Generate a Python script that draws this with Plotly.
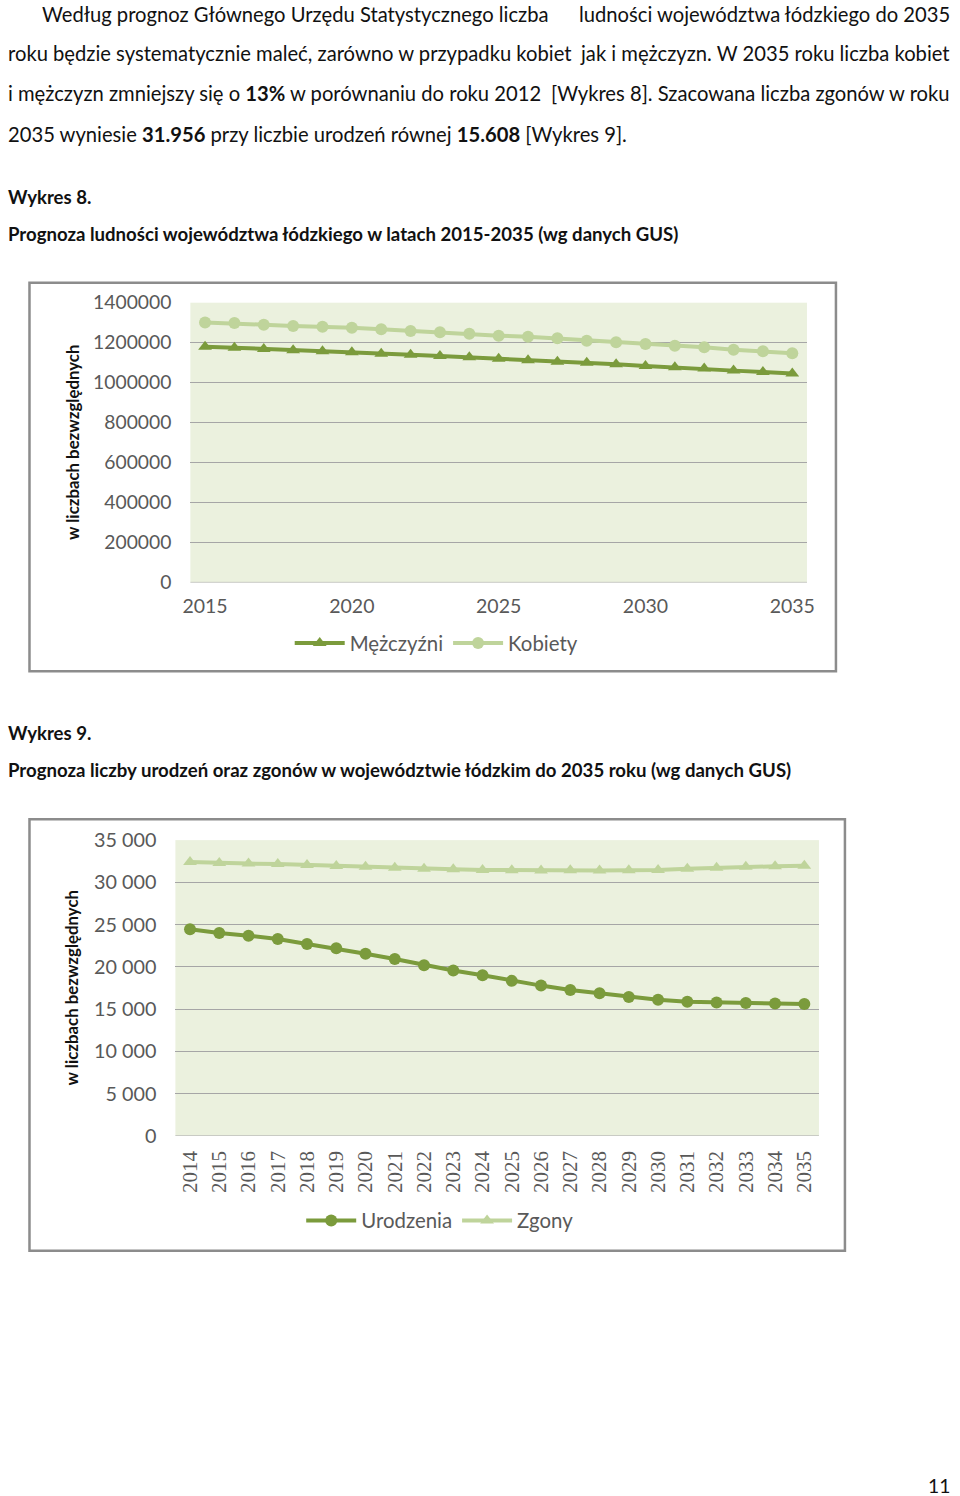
import plotly.graph_objects as go

# ---------------- DATA ----------------
years_pop = list(range(2015, 2036))
mezczyzni = [1180000, 1175000, 1168000, 1162000, 1157000, 1152000, 1145000, 1140000, 1133000,
             1127000, 1120000, 1112000, 1105000, 1100000, 1092000, 1083000, 1077000, 1070000,
             1060000, 1053000, 1045000]
kobiety = [1301000, 1298000, 1290000, 1283000, 1280000, 1275000, 1267000, 1258000, 1252000,
           1245000, 1235000, 1230000, 1222000, 1210000, 1202000, 1193000, 1185000, 1177000,
           1165000, 1157000, 1147000]

years_bd = list(range(2014, 2036))
urodzenia = [24450, 24010, 23690, 23300, 22700, 22190, 21560, 20920, 20200, 19560, 19010,
             18340, 17780, 17270, 16870, 16430, 16110, 15870, 15790, 15710, 15670, 15608]
zgony = [32420, 32300, 32220, 32180, 32060, 31940, 31860, 31740, 31620, 31540, 31470,
         31430, 31390, 31420, 31390, 31420, 31460, 31620, 31740, 31860, 31900, 31956]

pop_ticks = [0, 200000, 400000, 600000, 800000, 1000000, 1200000, 1400000]
pop_xticks = [2015, 2020, 2025, 2030, 2035]
bd_ticks = [0, 5000, 10000, 15000, 20000, 25000, 30000, 35000]
bd_ticktext = ["0", "5 000", "10 000", "15 000", "20 000", "25 000", "30 000", "35 000"]

# ---------------- STYLE ----------------
W, H = 960, 1496
# observed mapping page -> photo: photo = S * page + O ; positions below are photo pixels
SX, OX = 0.984, 7.5
SY, OY = 0.985, 12.0
DARK = "#7B9B3C"
LIGHT = "#BFD49B"
PLOTBG = "#EBF1DE"
GRID = "#A6A6A6"
TICK = "#595959"
FONT = "Lato"


def px(x):
    return min(max(((x - OX) / SX) / W, 0.0), 0.998)


def py(y):
    return min(max(1 - ((y - OY) / SY) / H, 0.0), 1.0)


fig = go.Figure()

fig.add_trace(go.Scatter(x=years_pop, y=mezczyzni, name="Mężczyźni", mode="lines+markers",
                         line=dict(color=DARK, width=4),
                         marker=dict(symbol="triangle-up", size=12, color=DARK),
                         xaxis="x", yaxis="y", legend="legend"))
fig.add_trace(go.Scatter(x=years_pop, y=kobiety, name="Kobiety", mode="lines+markers",
                         line=dict(color=LIGHT, width=4),
                         marker=dict(symbol="circle", size=12, color=LIGHT),
                         xaxis="x", yaxis="y", legend="legend"))

fig.add_trace(go.Scatter(x=years_bd, y=urodzenia, name="Urodzenia", mode="lines+markers",
                         line=dict(color=DARK, width=4),
                         marker=dict(symbol="circle", size=12, color=DARK),
                         xaxis="x2", yaxis="y2", legend="legend2"))
fig.add_trace(go.Scatter(x=years_bd, y=zgony, name="Zgony", mode="lines+markers",
                         line=dict(color=LIGHT, width=4),
                         marker=dict(symbol="triangle-up", size=12, color=LIGHT),
                         xaxis="x2", yaxis="y2", legend="legend2"))

common_axis = dict(showline=False, zeroline=False, ticks="", fixedrange=True)

fig.update_layout(
    width=W, height=H,
    margin=dict(l=0, r=0, t=0, b=0),
    paper_bgcolor="white",
    plot_bgcolor=PLOTBG,
    font=dict(family=FONT, color=TICK),
    xaxis=dict(domain=[px(190), px(807)], anchor="y", range=[2014.5, 2035.5],
               tickvals=pop_xticks, showgrid=False,
               tickfont=dict(size=19.5, color=TICK), ticklabelstandoff=10, **common_axis),
    yaxis=dict(domain=[py(582), py(302)], anchor="x", range=[0, 1400000],
               tickvals=pop_ticks, tickformat="d", showgrid=True, gridcolor=GRID, gridwidth=1,
               tickfont=dict(size=19.3, color=TICK), ticklabelstandoff=18, **common_axis),
    xaxis2=dict(domain=[px(175), px(819)], anchor="y2", range=[2013.5, 2035.5],
                tickvals=years_bd, tickangle=-90, showgrid=False,
                tickfont=dict(size=21, color=TICK, family="Liberation Serif"),
                ticklabelstandoff=10, **common_axis),
    yaxis2=dict(domain=[py(1136), py(840)], anchor="x2", range=[0, 35000],
                tickvals=bd_ticks, ticktext=bd_ticktext, showgrid=True, gridcolor=GRID, gridwidth=1,
                tickfont=dict(size=19.8, color=TICK), ticklabelstandoff=18, **common_axis),
    legend=dict(orientation="h", x=px(436), y=py(643), xanchor="center", yanchor="middle",
                font=dict(size=20.4, color=TICK), bgcolor="rgba(0,0,0,0)", itemwidth=50),
    legend2=dict(orientation="h", x=px(440), y=py(1221), xanchor="center", yanchor="middle",
                 font=dict(size=20.4, color=TICK), bgcolor="rgba(0,0,0,0)", itemwidth=50),
    showlegend=True,
)

# frames around the charts
for (x0, y0, x1, y1) in [(29, 282, 836, 671), (29, 819, 845, 1251)]:
    fig.add_shape(type="rect", xref="paper", yref="paper",
                  x0=px(x0), x1=px(x1), y0=py(y1), y1=py(y0),
                  line=dict(color="#8C8C8C", width=2.5), fillcolor="rgba(0,0,0,0)", layer="below")
# zero baselines
fig.add_shape(type="line", xref="x domain", yref="y", x0=0, x1=1, y0=0, y1=0,
              line=dict(color=GRID, width=1))
fig.add_shape(type="line", xref="x2 domain", yref="y2", x0=0, x1=1, y0=0, y1=0,
              line=dict(color=GRID, width=1))

TXT = dict(family=FONT, size=20.2, color="#111111")


def note(text, x, y, xanchor="left", font=None):
    fig.add_annotation(text=text, xref="paper", yref="paper", x=px(x), y=py(y),
                       xanchor=xanchor, yanchor="middle", showarrow=False,
                       borderpad=0, borderwidth=0, font=font or TXT)


# body paragraph (justified by splitting lines)
note("Według prognoz Głównego Urzędu Statystycznego liczba", 42, 13)
note("ludności województwa łódzkiego do 2035", 960, 13, "right")
note("roku będzie systematycznie maleć, zarówno w przypadku kobiet", 0, 52)
note("jak i mężczyzn. W 2035 roku liczba kobiet", 960, 52, "right")
note("i mężczyzn zmniejszy się o <b>13%</b> w porównaniu do roku 2012", 0, 92)
note("[Wykres 8]. Szacowana liczba zgonów w roku", 960, 92, "right")
note("2035 wyniesie <b>31.956</b> przy liczbie urodzeń równej <b>15.608</b> [Wykres 9].", 0, 133)

BOLD = dict(family=FONT, size=18.6, color="#111111")
note("<b>Wykres 8.</b>", 0, 196, font=BOLD)
note("<b>Prognoza ludności województwa łódzkiego w latach 2015-2035 (wg danych GUS)</b>", 0, 233, font=BOLD)
note("<b>Wykres 9.</b>", 0, 733, font=BOLD)
note("<b>Prognoza liczby urodzeń oraz zgonów w województwie łódzkim do 2035 roku (wg danych GUS)</b>",
     0, 770, font=BOLD)
note("11", 958, 1487, "right", font=dict(family=FONT, size=19.3, color="#111111"))

# y-axis titles
for yc in (442, 988):
    fig.add_annotation(text="<b>w liczbach bezwzględnych</b>", xref="paper", yref="paper",
                       x=px(72), y=py(yc), xanchor="center", yanchor="middle", textangle=-90,
                       showarrow=False, font=dict(family=FONT, size=16.8, color="#111111"))

# pin the figure to the window's top-left corner (no page margin)
PIN = ("document.documentElement.style.margin='0';document.body.style.margin='0';"
       "document.body.style.overflow='hidden';"
       "var d=document.getElementById('{plot_id}');"
       "d.style.position='fixed';d.style.left='0px';d.style.top='0px';")
fig.write_html("out.html", config={"displayModeBar": False}, post_script=PIN)
